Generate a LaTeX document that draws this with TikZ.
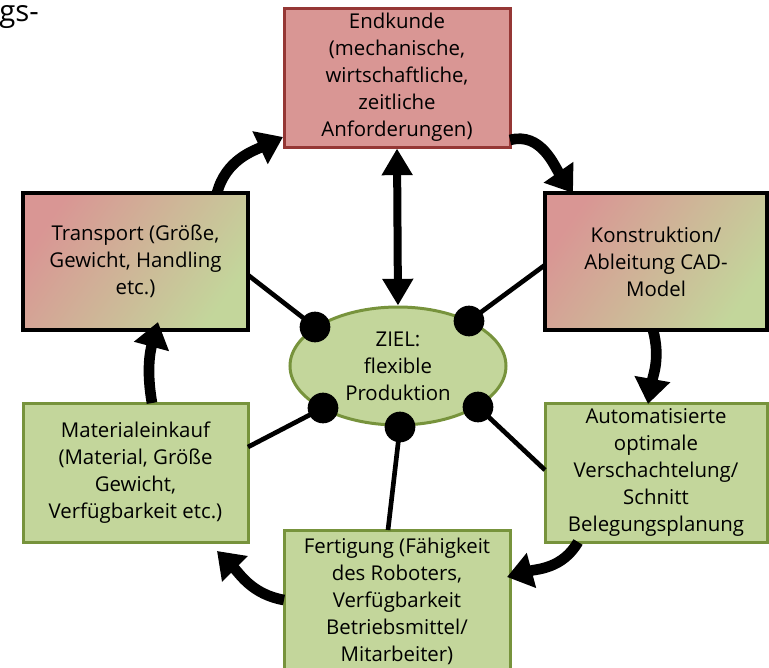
\documentclass[tikz,border=0pt]{standalone}
\usepackage{fontspec}
\setmainfont{Open Sans}
\usetikzlibrary{arrows.meta,shapes.geometric}
\definecolor{cred}{RGB}{217,150,148}
\definecolor{credline}{RGB}{149,55,53}
\definecolor{cgreen}{RGB}{195,214,155}
\definecolor{cgreenline}{RGB}{119,147,60}
\tikzset{
  txt/.style={font=\fontsize{15.3}{20.25}\selectfont, align=center, inner sep=0pt},
  redbox/.style={txt, rectangle, draw=credline, line width=2.25pt, fill=cred},
  gradbox/.style={txt, rectangle, draw=black, line width=3pt, left color=cred, right color=cgreen, shading angle=55},
  greenbox/.style={txt, rectangle, draw=cgreenline, line width=2.25pt, fill=cgreen},
  goal/.style={txt, ellipse, draw=cgreenline, line width=2.25pt, fill=cgreen},
  dot/.style={circle, fill=black, inner sep=0pt, minimum size=23pt},
  flow/.style={line width=8pt, -{Triangle[width=26pt,length=19pt]}},
  twoway/.style={line width=6pt, {Triangle[width=22pt,length=20pt]}-{Triangle[width=22pt,length=20pt]}},
  link/.style={line width=3.5pt}
}
\begin{document}
\begin{tikzpicture}[x=0.75pt,y=0.75pt]
\useasboundingbox (0,0) rectangle (769,-668);
\begin{scope}
\clip (0,0) rectangle (769,-668);
\node[inner sep=0pt, anchor=base west, font=\fontsize{22}{26}\selectfont] (gs) at (-1,-21) {gs-};
\node[redbox, minimum width=169.5pt, minimum height=104.25pt] (end) at (397,-77.5)
  {Endkunde\\(mechanische,\\wirtschaftliche,\\zeitliche\\Anforderungen)};
\node[gradbox, minimum width=168.75pt, minimum height=102.75pt] (trans) at (135.5,-261.5)
  {Transport (Größe,\\Gewicht, Handling\\etc.)};
\node[gradbox, minimum width=166.5pt, minimum height=102.75pt] (konst) at (656,-261.5)
  {Konstruktion/\\Ableitung CAD-\\Model};
\node[greenbox, minimum width=168.75pt, minimum height=104.25pt] (mat) at (135.5,-472.5)
  {Materialeinkauf\\(Material, Größe\\Gewicht,\\Verfügbarkeit etc.)};
\node[greenbox, minimum width=166.5pt, minimum height=104.25pt] (auto) at (656,-472.5)
  {Automatisierte\\optimale\\Verschachtelung/\\Schnitt\\Belegungsplanung};
\node[greenbox, minimum width=169.5pt, minimum height=106.5pt] (fert) at (397,-601)
  {Fertigung (Fähigkeit\\des Roboters,\\Verfügbarkeit\\Betriebsmittel/\\Mitarbeiter)};
\node[goal, minimum width=162pt, minimum height=88.5pt] (ziel) at (398,-366)
  {ZIEL:\\flexible\\Produktion};

% dot positions
\coordinate (p1) at (315,-327);
\coordinate (p2) at (469,-321);
\coordinate (p3) at (323,-408);
\coordinate (p4) at (400,-427);
\coordinate (p5) at (478,-407);

% link end points on the boxes
\coordinate (l1) at (248,-275);
\coordinate (l2) at (545,-265);
\coordinate (l3) at (248,-447);
\coordinate (l4) at (388,-530);
\coordinate (l5) at (545,-470);
\draw[link] (p1) -- (l1);
\draw[link] (p2) -- (l2);
\draw[link] (p3) -- (l3);
\draw[link] (p4) -- (l4);
\draw[link] (p5) -- (l5);
\node[dot] (d1) at (p1) {};
\node[dot] (d2) at (p2) {};
\node[dot] (d3) at (p3) {};
\node[dot] (d4) at (p4) {};
\node[dot] (d5) at (p5) {};

% double arrow
\draw[twoway] (end.south) -- (ziel.north);

% cycle arrows
\coordinate (a1s) at (217,-193); \coordinate (a1e) at (283,-137);
\coordinate (a2s) at (510,-140); \coordinate (a2e) at (573,-193);
\coordinate (a3s) at (653,-330); \coordinate (a3e) at (648,-404);
\coordinate (a4s) at (578,-542); \coordinate (a4e) at (507,-577);
\coordinate (a5s) at (284,-600); \coordinate (a5e) at (217,-551);
\coordinate (a6s) at (152,-403); \coordinate (a6e) at (158,-322);
\draw[flow] (a1s) to[out=75,in=205] (a1e);
\draw[flow] (a2s) to[out=15,in=125] (a2e);
\draw[flow] (a3s) to[out=-75,in=80] (a3e);
\draw[flow] (a4s) to[out=-120,in=15] (a4e);
\draw[flow] (a5s) to[out=170,in=-45] (a5e);
\draw[flow] (a6s) to[out=100,in=255] (a6e);
\end{scope}
\end{tikzpicture}
\end{document}
